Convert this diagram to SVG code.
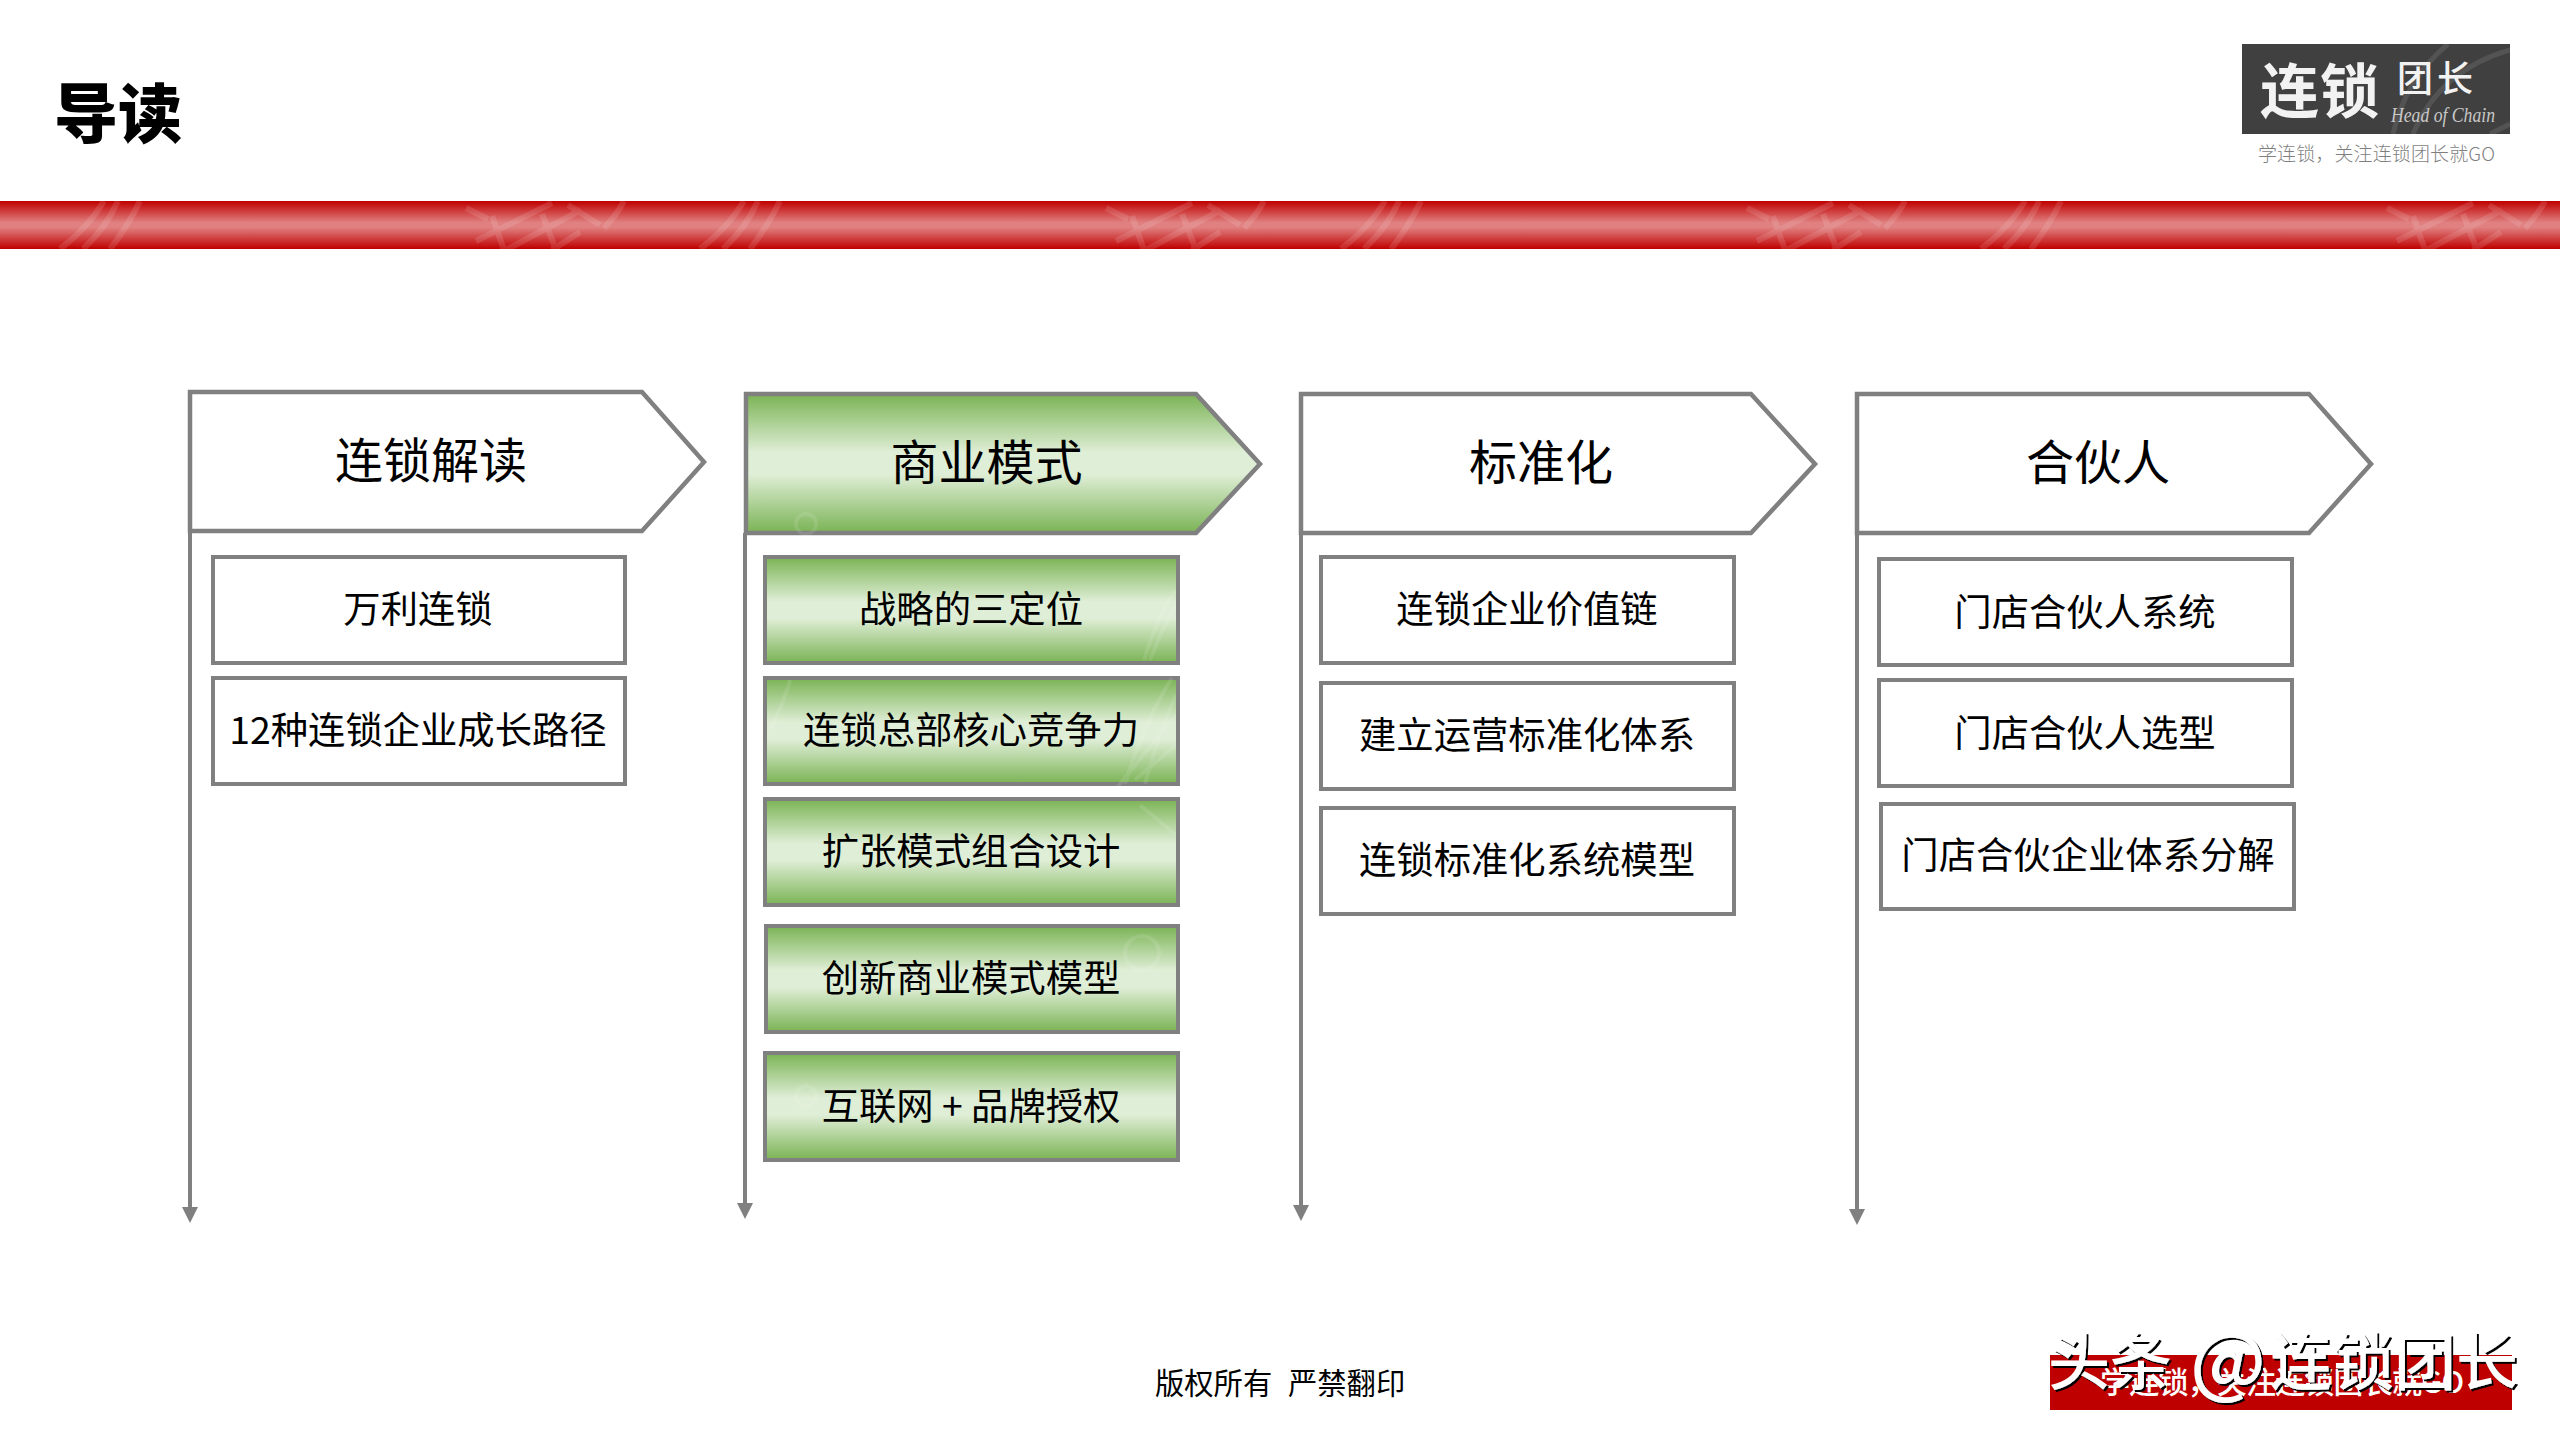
<svg xmlns="http://www.w3.org/2000/svg" width="2560" height="1440" viewBox="0 0 2560 1440">
<defs>
<linearGradient id="redBand" x1="0" y1="0" x2="0" y2="1"><stop offset="0" stop-color="#c00000"/><stop offset="0.45" stop-color="#e08080"/><stop offset="0.55" stop-color="#e08080"/><stop offset="1" stop-color="#c00000"/></linearGradient>
<linearGradient id="green" x1="0" y1="0" x2="0" y2="1"><stop offset="0" stop-color="#7ab354"/><stop offset="0.42" stop-color="#dfeed6"/><stop offset="0.58" stop-color="#dfeed6"/><stop offset="1" stop-color="#7ab354"/></linearGradient>
<marker id="tri" markerUnits="userSpaceOnUse" markerWidth="16" markerHeight="16" refX="4" refY="8" orient="auto"><path d="M0 0L16 8L0 16Z" fill="#808080"/></marker>
<filter id="shadow" x="-5%" y="-20%" width="110%" height="140%"><feDropShadow dx="2" dy="2" stdDeviation="0.5" flood-color="#000" flood-opacity="1"/></filter>
<clipPath id="bandClip"><rect x="0" y="201" width="2560" height="48"/></clipPath>
<clipPath id="logoClip"><rect x="2242" y="44" width="268" height="90"/></clipPath>
<clipPath id="g2"><rect x="767" y="396" width="409" height="768"/></clipPath>
<g id="mark" fill="none" stroke="#fff" stroke-opacity="0.12" stroke-width="6">
<path d="M60 249Q88 228 104 201M83 249Q106 228 118 201M110 249Q128 226 140 201"/>
<path d="M466 208L488 219M476 241L552 203M492 216L504 250M506 250L581 210M542 214L556 250M552 250L580 232M568 205L600 225M604 228Q616 216 624 201"/>
</g>
</defs>
<style>
text{font-family:"Noto Sans CJK SC","Noto Sans",sans-serif;fill:#000}
.hd{font-size:48px;text-anchor:middle}
.bx{font-size:37.33px;text-anchor:middle}
.ln{fill:#fff;stroke:#808080;stroke-width:4.5}
.gr{fill:url(#green);stroke:#808080;stroke-width:4.5}
.bl{fill:#fff;stroke:#808080;stroke-width:4}
.bg{fill:url(#green);stroke:#808080;stroke-width:4}
.conn{stroke:#808080;stroke-width:4;fill:none;marker-end:url(#tri)}
</style>
<rect width="2560" height="1440" fill="#fff"/>

<g id="band">
<rect x="0" y="201" width="2560" height="48" fill="url(#redBand)"/>
<g clip-path="url(#bandClip)"><use href="#mark"/><use href="#mark" x="640"/><use href="#mark" x="1281"/><use href="#mark" x="1921"/></g>
</g>
<g id="title"><text x="54" y="137" font-size="64" font-weight="900">导读</text></g>

<g id="logo">
<rect x="2242" y="44" width="268" height="90" fill="#404040"/>
<g clip-path="url(#logoClip)" fill="none" stroke="#fff" stroke-opacity="0.1" stroke-width="5"><path d="M2393 134Q2405 80 2448 44M2413 134Q2440 70 2510 50M2490 134L2510 124"/></g>
<text x="2260" y="113" font-size="59" font-weight="700" letter-spacing="1" style="fill:#f2f2f2">连锁</text>
<text x="2397" y="92" font-size="36" font-weight="500" letter-spacing="4" style="fill:#f2f2f2">团长</text>
<text x="2391" y="122" font-size="21" font-style="italic" textLength="104" lengthAdjust="spacingAndGlyphs" style="font-family:'Liberation Serif',serif;fill:#c8c8c8">Head of Chain</text>
<text x="2258" y="161" font-size="19" font-weight="300" textLength="237" style="fill:#7f7f7f">学连锁，关注连锁团长就GO</text>
</g>

<g id="connectors">
<path class="conn" d="M190 531V1211"/>
<path class="conn" d="M745 533V1207"/>
<path class="conn" d="M1301 533V1209"/>
<path class="conn" d="M1857 533V1213"/>
</g>

<g id="col1-head"><path class="ln" d="M190 392H642L704 462L642 531H190Z"/><text class="hd" x="431" y="478">连锁解读</text></g>
<g id="col1-item1"><rect class="bl" x="213" y="557" width="412" height="106"/><text class="bx" x="418" y="623">万利连锁</text></g>
<g id="col1-item2"><rect class="bl" x="213" y="678" width="412" height="106"/><text class="bx" x="418" y="744">12种连锁企业成长路径</text></g>

<g id="col2-head"><path class="gr" d="M746 394H1196L1260 464L1196 533H746Z"/><text class="hd" x="986.500" y="480">商业模式</text></g>
<g id="col2-item1"><rect class="bg" x="765" y="557" width="413" height="106"/><text class="bx" x="971" y="623">战略的三定位</text></g>
<g id="col2-item2"><rect class="bg" x="765" y="678" width="413" height="106"/><text class="bx" x="971" y="744">连锁总部核心竞争力</text></g>
<g id="col2-item3"><rect class="bg" x="765" y="799" width="413" height="106"/><text class="bx" x="971" y="865">扩张模式组合设计</text></g>
<g id="col2-item4"><rect class="bg" x="766" y="926" width="412" height="106"/><text class="bx" x="971" y="992">创新商业模式模型</text></g>
<g id="col2-item5"><rect class="bg" x="765" y="1053" width="413" height="107"/><text class="bx" x="971" y="1120">互联网 + 品牌授权</text></g>
<g id="col2-wash" clip-path="url(#g2)" fill="none" stroke="#fff" stroke-opacity="0.1" stroke-width="4">
<circle cx="806" cy="524" r="10"/><circle cx="1142" cy="953" r="17"/><circle cx="806" cy="1096" r="10"/>
<path d="M1144 660Q1160 610 1176 590M1150 660Q1166 620 1176 606M1125 784Q1145 720 1172 678M1145 784Q1160 730 1176 695M770 730Q785 700 790 680M1135 780L1176 745M1115 790L1176 715M1140 805L1176 835"/>
</g>

<g id="col3-head"><path class="ln" d="M1301 394H1751L1815 464L1751 533H1301Z"/><text class="hd" x="1541" y="480">标准化</text></g>
<g id="col3-item1"><rect class="bl" x="1321" y="557" width="413" height="106"/><text class="bx" x="1527" y="623">连锁企业价值链</text></g>
<g id="col3-item2"><rect class="bl" x="1321" y="683" width="413" height="106"/><text class="bx" x="1527" y="749">建立运营标准化体系</text></g>
<g id="col3-item3"><rect class="bl" x="1321" y="808" width="413" height="106"/><text class="bx" x="1527" y="874">连锁标准化系统模型</text></g>

<g id="col4-head"><path class="ln" d="M1857 394H2309L2371 464L2309 533H1857Z"/><text class="hd" x="2098" y="480">合伙人</text></g>
<g id="col4-item1"><rect class="bl" x="1879" y="559" width="413" height="106"/><text class="bx" x="2085" y="626">门店合伙人系统</text></g>
<g id="col4-item2"><rect class="bl" x="1879" y="680" width="413" height="106"/><text class="bx" x="2085" y="747">门店合伙人选型</text></g>
<g id="col4-item3"><rect class="bl" x="1881" y="804" width="413" height="105"/><text class="bx" x="2088" y="869">门店合伙企业体系分解</text></g>

<g id="footer"><text font-size="29.3" y="1394"><tspan x="1155">版权所有</tspan><tspan x="1288">严禁翻印</tspan></text></g>

<g id="stamp">
<rect x="2050" y="1355" width="462" height="55" fill="#be0000"/>
<text x="2100" y="1393" font-size="30" font-weight="500" textLength="364" style="fill:#fff">学连锁，关注连锁团长就GO</text>
<text y="1385" font-size="62" font-weight="500" filter="url(#shadow)" style="fill:#fff"><tspan x="2048">头条</tspan><tspan x="2190" font-size="78" dy="4">@</tspan><tspan x="2270" dy="-4">连锁团长</tspan></text>
</g>
</svg>
